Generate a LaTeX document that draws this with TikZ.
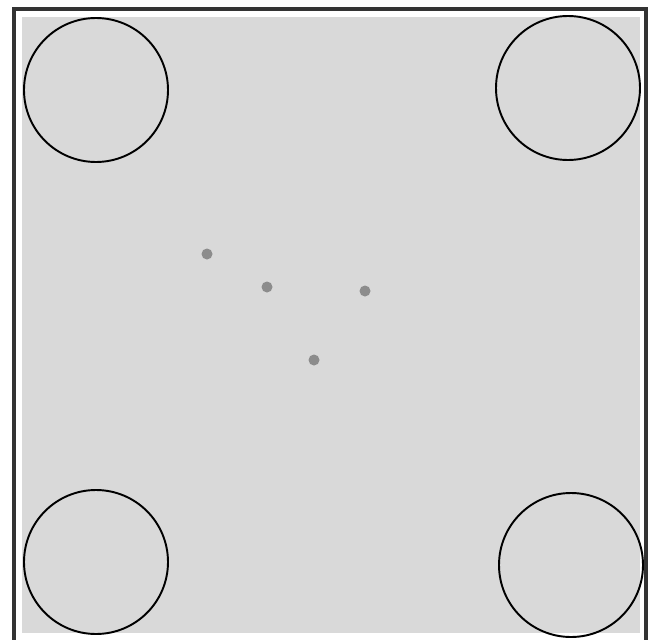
\documentclass[tikz,border=0pt]{standalone}
\definecolor{plate}{HTML}{D9D9D9}
\definecolor{dotgray}{HTML}{8C8C8C}
\begin{document}
\begin{tikzpicture}[x=0.02cm,y=-0.02cm,
	hole/.style={draw=black,line width=1.1pt},
	pin/.style={fill=dotgray}]
	\useasboundingbox (0,0) rectangle (652,639);
	\fill[plate] (22,17) rectangle (640,633);
	\draw[line width=1.8pt,draw=black!80] (14,650) -- (14,9) -- (646,9) -- (646,650);
	
	\draw[hole] (96,90) circle (72);
	\draw[hole] (568,88) circle (72);
	\draw[hole] (96,562) circle (72);
	\draw[hole] (571,565) circle (72);
	
	\fill[pin] (207,254) circle (5.5);
	\fill[pin] (267,287) circle (5.5);
	\fill[pin] (365,291) circle (5.5);
	\fill[pin] (314,360) circle (5.5);
\end{tikzpicture}
\end{document}
